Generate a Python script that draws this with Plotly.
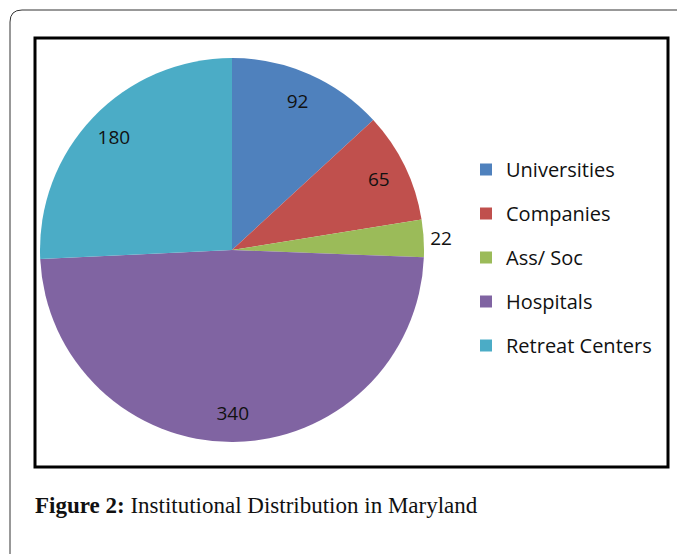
import plotly.graph_objects as go

labels = ["Universities", "Companies", "Ass/ Soc", "Hospitals", "Retreat Centers"]
values = [92, 65, 22, 340, 180]
colors = ["#4F81BD", "#C0504D", "#9BBB59", "#8064A2", "#4BACC6"]
text_positions = ["inside", "inside", "outside", "inside", "inside"]

W, H = 677, 554

def px(x):
    return x / W

def py(y):
    return 1 - y / H

pie_domain = dict(x=[px(40), px(424)], y=[py(442), py(58)])

fig = go.Figure()

# coloured pie (no text)
fig.add_trace(go.Pie(
    labels=labels,
    values=values,
    marker=dict(colors=colors, line=dict(width=0)),
    sort=False,
    direction="clockwise",
    rotation=0,
    textinfo="none",
    showlegend=False,
    hoverinfo="label+value",
    domain=pie_domain,
))

# transparent ring carrying the data labels near the rim
fig.add_trace(go.Pie(
    labels=labels,
    values=values,
    hole=0.7,
    marker=dict(colors=["rgba(0,0,0,0)"] * len(values), line=dict(width=0)),
    sort=False,
    direction="clockwise",
    rotation=0,
    textinfo="value",
    textposition=text_positions,
    insidetextorientation="horizontal",
    textfont=dict(family="Open Sans", size=19, color="#111111"),
    showlegend=False,
    hoverinfo="skip",
    domain=pie_domain,
))

for lab, col in zip(labels, colors):
    fig.add_trace(go.Scatter(
        x=[None], y=[None], mode="markers", name=lab,
        legendgroup=lab,
        marker=dict(symbol="square", size=12, color=col),
        showlegend=True,
    ))

# outer rounded frame
r = 12
x0, y0 = px(10), py(10)
x1, y1 = px(W + 20), py(H + 20)
rx, ry = r / W, r / H
path = (f"M {x0},{y1} L {x0},{y0 - ry} Q {x0},{y0} {x0 + rx},{y0} "
        f"L {x1},{y0}")

shapes = [
    dict(type="path", xref="paper", yref="paper", path=path,
         line=dict(color="#333333", width=1)),
    dict(type="rect", xref="paper", yref="paper",
         x0=px(35), y0=py(467), x1=px(668), y1=py(38),
         line=dict(color="#000000", width=3)),
]

fig.update_layout(
    width=W, height=H,
    margin=dict(l=0, r=0, t=0, b=0),
    paper_bgcolor="white",
    plot_bgcolor="white",
    xaxis=dict(visible=False),
    yaxis=dict(visible=False),
    shapes=shapes,
    legend=dict(
        x=px(466), y=py(150), xanchor="left", yanchor="top",
        font=dict(family="Open Sans", size=20, color="#111111"),
        tracegroupgap=15,
        itemclick=False, itemdoubleclick=False,
        bgcolor="rgba(0,0,0,0)",
    ),
    annotations=[dict(
        xref="paper", yref="paper", x=px(33), y=py(505),
        xanchor="left", yanchor="middle", showarrow=False,
        text="<b>Figure 2:</b> Institutional Distribution in Maryland",
        font=dict(family="Liberation Serif", size=23, color="#111111"),
    )],
)

fig.write_html("out.html", config={"displayModeBar": False})

with open("out.html", "r", encoding="utf-8") as f:
    html = f.read()
html = html.replace("<head>", "<head><style>html,body{margin:0;padding:0;overflow:hidden;}</style>", 1)
with open("out.html", "w", encoding="utf-8") as f:
    f.write(html)
